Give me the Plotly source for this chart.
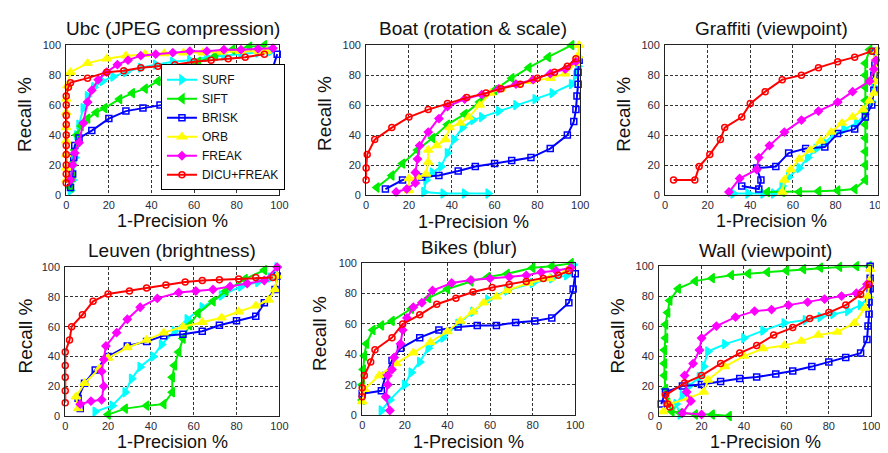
import plotly.graph_objects as go

# ---------------- data (1-Precision %, Recall %) ----------------
SERIES = ["SURF", "SIFT", "BRISK", "ORB", "FREAK", "DICU+FREAK"]
PANEL_TITLES = ["Ubc (JPEG compression)", "Boat (rotation & scale)", "Graffiti (viewpoint)",
                "Leuven (brightness)", "Bikes (blur)", "Wall (viewpoint)"]
TICKS = [0, 20, 40, 60, 80, 100]

UBC_SURF = [(2,3),(3,10),(4,25),(5,40),(6,47),(8,58),(10,66),(13,72),(17,76),(22,79),(28,82),(35,85),(42,87),(50,89),(58,90),(66,92),(74,93),(82,94),(90,95),(96,96)]
UBC_SIFT = [(2,5),(3,12),(3.5,22),(4,30),(5,40),(7,46),(10,51),(14,55),(18,58),(25,64),(31,68),(37,71),(43,76),(50,81),(56,85),(62,89),(70,93),(78,97),(86,99),(93,100)]
UBC_BRISK = [(2,5),(3,14),(3.5,25),(4,33),(6,38),(12,43),(20,51),(28,56),(36,58),(44,60),(52,62),(60,64),(68,65.5),(76,67),(84,70),(92,75),(97,85),(99,94)]
UBC_ORB = [(0,10),(0,18),(0,27),(0,36),(0,45),(0,55),(0,64),(0.5,73),(2,82),(10,88),(19,91),(28,93),(37,94),(46,94.5),(55,95),(64,95),(73,95.5),(82,96),(90,96),(94,96)]
UBC_FREAK = [(2,10),(3,20),(4,28),(6,35),(8,48),(10,62),(12,70),(15,77),(19,82),(24,87),(29,90),(35,93),(42,94),(50,95),(58,96),(66,96),(74,97),(82,97),(90,97.5),(97,98)]
UBC_DICU = [(0,8),(0,14),(0,20),(0,27),(0,33),(0,40),(0,47),(0,53),(0,60),(0,66),(1,72),(2,75),(10,78),(19,82),(27,83),(35,85),(43,86),(51,87),(60,89),(68,90),(76,91),(84,92),(93,94)]

BOAT_SURF = [(57,1),(46,1),(36,1),(27,2),(28,10),(31,15),(35,19),(38,28),(41,37),(45,45),(50,50),(54,52),(62,56),(70,60),(79,64),(87,68),(96,74),(98,80),(99,86)]
BOAT_SIFT = [(5,5),(12,13),(17,21),(24,30),(31,38),(38,47),(46,54),(53,62),(60,70),(68,78),(76,85),(85,92),(96,100)]
BOAT_BRISK = [(9,4),(17,10),(26,12),(34,13),(43,16),(51,19),(60,21),(68,23),(77,25),(86,31),(94,40),(97,49),(98,57),(98.5,66),(99,74),(99,82),(99.5,90)]
BOAT_ORB = [(20,3),(20,11),(24,12),(28,14),(29,22),(29,30),(33,33),(37,37),(39,45),(44,48),(48,52),(53,60),(58,68),(63,71),(70,74),(77,76),(86,78),(93,81),(98,88),(99,93),(99.5,100)]
BOAT_FREAK = [(14,2),(19,4),(23,8),(23,15),(24,24),(25,33),(29,42),(34,51),(38,59),(46,64),(54,67),(62,71),(70,74),(78,77),(86,81),(93,84),(98,89)]
BOAT_DICU = [(0,10),(0,18),(0.5,27),(4,37),(12,45),(20,52),(29,57),(38,61),(47,65),(56,68),(63,71),(72,74),(80,78),(88,82),(94,86),(98,91)]

GRAF_SURF = [(32,1),(39,1),(46,1),(51,1),(55,6),(58,12),(63,18),(67,25),(71,31),(75,35),(79,40),(84,44),(90,48),(94,54),(97,62),(98,72),(99,82),(99,91)]
GRAF_SIFT = [(48,2),(55,2),(63,2),(72,2.5),(81,3),(89,4),(94,10),(94,20),(94,29),(94,38),(94,47),(94,55),(94,63),(94,72),(94,80),(94,88),(96,97)]
GRAF_BRISK = [(36,6),(44,4),(45,10),(43,18),(52,19),(58,28),(66,31),(75,32),(81,41),(89,44),(94,52),(97,60),(98,70),(98,80),(98.5,88),(99,96)]
GRAF_ORB = [(55,2),(56,10),(59,17),(63,24),(68,30),(73,36),(78,42),(83,48),(88,52),(93,57),(96,63),(98,68),(98.5,76),(99,84),(99,91),(99.5,96)]
GRAF_FREAK = [(30,2),(35,11),(43,17),(44,25),(49,33),(56,42),(64,50),(72,56),(81,62),(88,69),(96,76),(98,84),(99,90)]
GRAF_DICU = [(4,10),(14,10),(16,19),(21,27),(26,37),(28,45),(36,52),(40,61),(47,69),(55,77),(64,80),(72,85),(81,89),(89,92),(97,96)]

LEUV_SURF = [(14,3),(22,7),(28,16),(31,25),(35,33),(41,40),(45,48),(51,57),(57,65),(64,73),(73,81),(82,87),(90,90),(96,93),(99,100)]
LEUV_SIFT = [(20,1),(28,5),(38,7),(46,8),(50,16),(50,26),(51,34),(53,43),(55,52),(58,61),(62,69),(69,77),(75,84),(84,92),(93,98)]
LEUV_BRISK = [(7,5),(6,12),(9,22),(14,31),(20,40),(29,47),(38,50),(46,54),(55,55),(64,57),(72,61),(80,64),(89,67),(93,76),(98,85),(99,94)]
LEUV_ORB = [(6,5),(5,13),(9,22),(16,32),(20,39),(29,46),(38,51),(46,56),(55,60),(64,63),(73,66),(81,70),(89,74),(95,78),(98,85),(99,94)]
LEUV_FREAK = [(7,8),(12,10),(17,11),(18,20),(17,30),(18,38),(19,47),(24,56),(29,65),(35,73),(43,79),(53,83),(61,84),(69,85),(77,87),(85,89),(93,91),(99,100)]
LEUV_DICU = [(0,9),(0,17),(0,26),(0,34),(0,43),(2,51),(3,60),(8,68),(13,77),(20,82),(30,84),(38,86),(47,88),(56,90),(64,91),(72,91.5),(81,92),(89,93),(97,93)]

BIKE_SURF = [(9,3),(13,10),(20,20),(23,28),(27,35),(31,44),(38,51),(45,60),(52,68),(59,76),(68,82),(80,87),(89,90),(96,92),(99,99)]
BIKE_SIFT = [(0,10),(0,20),(0.5,30),(1,39),(2,47),(5,56),(9,59),(14,62),(23,70),(31,77),(40,83),(51,88),(59,91),(68,93),(80,97),(89,98),(98,100)]
BIKE_BRISK = [(0,14),(9,16),(11,26),(14,36),(18,44),(27,51),(36,56),(45,58),(54,59),(63,59),(72,61),(81,62),(89,64),(97,74),(99,83),(100,93)]
BIKE_ORB = [(0,9),(1,17),(8,26),(16,34),(24,41),(32,48),(40,55),(46,62),(52,68),(57,74),(63,78),(68,82),(78,87),(88,90),(96,95)]
BIKE_FREAK = [(13,3),(11,12),(12,20),(12,26),(14,30),(15,38),(18,47),(19,56),(21,64),(24,71),(28,74),(33,82),(42,87),(51,89),(60,90),(69,91),(77,92),(84,94),(91,95),(98,97)]
BIKE_DICU = [(0,12),(0,18),(1,26),(4,35),(6,43),(14,51),(19,60),(27,66),(35,73),(44,77),(52,81),(61,84),(69,86),(77,88),(85,90),(92,92),(97,95)]

WALL_SURF = [(10,1),(8,8),(11,14),(14,20),(19,26),(21,33),(23,43),(31,48),(40,52),(49,57),(59,62),(69,64),(76,66),(82,68),(89,70),(95,74),(99,79)]
WALL_SIFT = [(33,0),(25,1),(17,1),(10,2),(6,3),(4,9),(3,18),(2.5,27),(2.5,35),(2.5,44),(3,52),(3,61),(4,69),(5,77),(9,85),(17,90),(25,92),(34,94),(42,95),(51,96),(60,97),(68,98),(76,99),(85,99.5),(93,100),(99,100)]
WALL_BRISK = [(1,8),(3,16),(11,20),(20,21),(29,23),(38,25),(46,26),(55,28),(63,30),(72,33),(80,36),(88,39),(95,42),(98,51),(98.5,60),(99,68),(99,76),(99.5,85),(99.5,92),(99.5,100)]
WALL_ORB = [(2,3),(5,8),(14,12),(21,16),(23,24),(31,33),(40,40),(49,45),(59,47),(67,50),(75,54),(84,56),(92,62),(97,72),(98.5,80),(99,90),(99.5,98)]
WALL_FREAK = [(20,1),(11,2),(15,10),(13,16),(12,27),(16,35),(19,44),(20,52),(27,60),(36,66),(45,70),(53,71),(61,74),(70,76),(78,78),(86,80),(93,82),(98,88)]
WALL_DICU = [(5,6),(4,8),(3,14),(12,22),(20,27),(29,35),(38,42),(46,47),(54,54),(63,59),(71,65),(80,69),(88,74),(95,81),(99,88)]

PANELS = [
    [UBC_SURF, UBC_SIFT, UBC_BRISK, UBC_ORB, UBC_FREAK, UBC_DICU],
    [BOAT_SURF, BOAT_SIFT, BOAT_BRISK, BOAT_ORB, BOAT_FREAK, BOAT_DICU],
    [GRAF_SURF, GRAF_SIFT, GRAF_BRISK, GRAF_ORB, GRAF_FREAK, GRAF_DICU],
    [LEUV_SURF, LEUV_SIFT, LEUV_BRISK, LEUV_ORB, LEUV_FREAK, LEUV_DICU],
    [BIKE_SURF, BIKE_SIFT, BIKE_BRISK, BIKE_ORB, BIKE_FREAK, BIKE_DICU],
    [WALL_SURF, WALL_SIFT, WALL_BRISK, WALL_ORB, WALL_FREAK, WALL_DICU],
]

# ---------------- styles ----------------
COLORS = ["#00FFFF", "#00EE00", "#0000FF", "#FFFF00", "#FF00FF", "#FF0000"]
SYMBOLS = ["triangle-right", "triangle-left", "square-open", "triangle-up", "diamond", "circle-open"]
SIZES = [8, 8, 6, 8, 6, 6]

W, H = 888, 453
FONT = "Liberation Sans, Arial, sans-serif"
# plot-area pixel boxes (left, right, top, bottom)
BOXES = [(56, 272, 32, 186), (360, 577, 32, 186), (663, 879, 32, 186),
         (55, 272, 260, 413), (356, 572, 256, 412), (657, 872, 259, 413)]
TITLE_Y = [15, 15, 15, 243, 239.5, 243]
XLAB_Y = [213, 214, 213, 439.5, 439.5, 440]
YLAB_X = [13.5, 318.5, 621.5, 14.5, 313.5, 614.5]
YLAB_Y = [103.5, 102.5, 103.5, 331, 328.5, 331]

fig = go.Figure()
for p, series_list in enumerate(PANELS):
    ax = "" if p == 0 else str(p + 1)
    for s, pts in enumerate(series_list):
        xs = [a for a, b in pts]
        ys = [b for a, b in pts]
        fig.add_trace(go.Scatter(
            x=xs, y=ys, mode="lines+markers", name=SERIES[s],
            xaxis="x" + ax, yaxis="y" + ax, showlegend=(p == 0),
            line=dict(color=COLORS[s], width=2),
            marker=dict(symbol=SYMBOLS[s], size=SIZES[s], color=COLORS[s],
                        line=dict(color=COLORS[s], width=1.5)),
            cliponaxis=False,
        ))

layout = dict(width=W, height=H, autosize=False, margin=dict(l=0, r=0, t=0, b=0),
              paper_bgcolor="white", plot_bgcolor="white",
              font=dict(family=FONT, color="#262626"))
annotations = []
for p, (l, r, t, b) in enumerate(BOXES):
    ax = "" if p == 0 else str(p + 1)
    common = dict(range=[0, 100], tickvals=TICKS, showgrid=True, gridcolor="#333333",
                  gridwidth=1, griddash="3px,2px", zeroline=False, showline=True,
                  linecolor="#222222", linewidth=1, mirror=True, ticks="",
                  tickfont=dict(family=FONT, size=11, color="#2a2a3a"),
                  fixedrange=True)
    layout["xaxis" + ax] = dict(domain=[l / W, r / W], anchor="y" + ax, **common)
    layout["yaxis" + ax] = dict(domain=[1 - b / H, 1 - t / H], anchor="x" + ax,
                                ticklabelstandoff=2, **common)
    cx = (l + r) / 2 / W
    annotations.append(dict(text=PANEL_TITLES[p], x=cx, y=1 - TITLE_Y[p] / H, xref="paper", yref="paper",
                            showarrow=False, xanchor="center", yanchor="middle",
                            font=dict(family=FONT, size=19, color="#111111")))
    annotations.append(dict(text="1-Precision %", x=cx, y=1 - XLAB_Y[p] / H, xref="paper", yref="paper",
                            showarrow=False, xanchor="center", yanchor="middle",
                            font=dict(family=FONT, size=18, color="#111111")))
    annotations.append(dict(text="Recall %", x=YLAB_X[p] / W, y=1 - YLAB_Y[p] / H, xref="paper", yref="paper",
                            showarrow=False, xanchor="center", yanchor="middle", textangle=-90,
                            font=dict(family=FONT, size=19, color="#111111")))
layout["annotations"] = annotations
layout["legend"] = dict(x=152 / W, y=1 - 181 / H, xanchor="left", yanchor="bottom",
                        bgcolor="white", bordercolor="black", borderwidth=1,
                        font=dict(family=FONT, size=12, color="#111111"),
                        tracegroupgap=0)
fig.update_layout(**layout)
fig.write_html("out.html")
